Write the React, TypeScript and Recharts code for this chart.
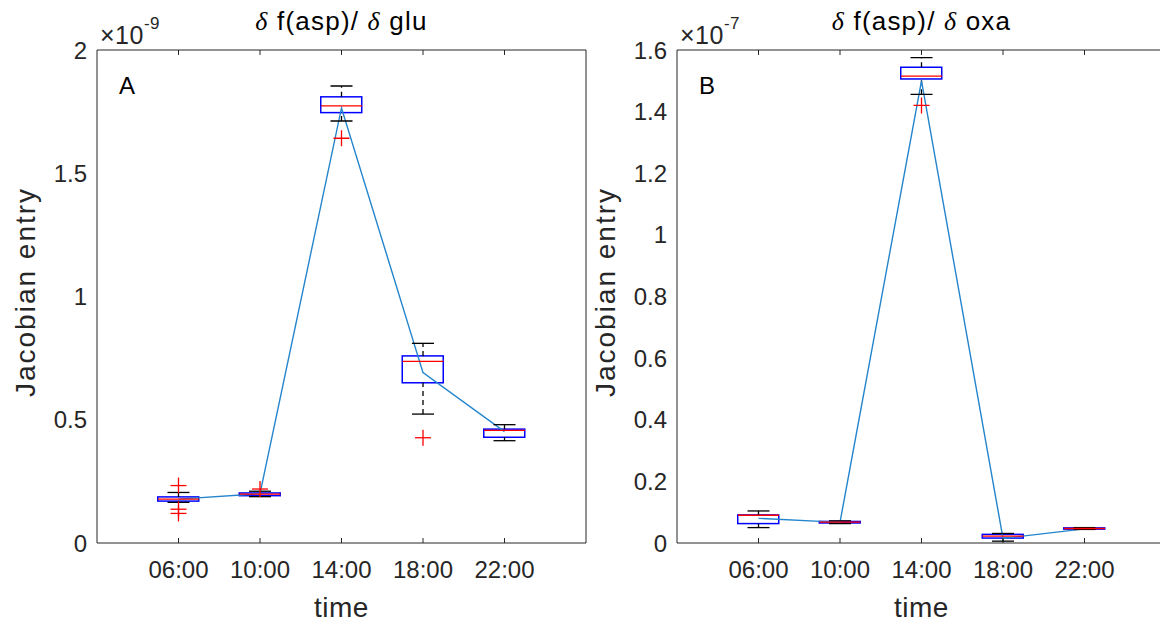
import { ComposedChart, XAxis, YAxis, Bar, Line, Scatter, ErrorBar } from 'recharts'

const times = ['06:00', '10:00', '14:00', '18:00', '22:00']
const positions = [1, 2, 3, 4, 5]

// panel A: d f(asp) / d glu, in units of 1e-9
const gluLo = [0.165, 0.188, 1.712, 0.523, 0.415]
const gluQ1 = [0.17, 0.192, 1.746, 0.65, 0.429]
const gluMed = [0.178, 0.198, 1.773, 0.737, 0.457]
const gluQ3 = [0.187, 0.203, 1.81, 0.759, 0.462]
const gluHi = [0.205, 0.21, 1.854, 0.81, 0.48]
const gluMean = [0.178, 0.2, 1.765, 0.691, 0.452]
const gluOutX = [1, 1, 1, 2, 3, 4]
const gluOutV = [0.233, 0.137, 0.12, 0.219, 1.642, 0.427]
const gluTicks = [0, 0.5, 1, 1.5, 2]

// panel B: d f(asp) / d oxa, in units of 1e-7
const oxaLo = [0.05, 0.063, 1.456, 0.006, 0.044]
const oxaQ1 = [0.063, 0.065, 1.506, 0.016, 0.045]
const oxaMed = [0.09, 0.068, 1.515, 0.022, 0.047]
const oxaQ3 = [0.091, 0.07, 1.544, 0.028, 0.049]
const oxaHi = [0.104, 0.072, 1.575, 0.031, 0.05]
const oxaMean = [0.08, 0.067, 1.5, 0.015, 0.046]
const oxaOutX = [3]
const oxaOutV = [1.42]
const oxaTicks = [0, 0.2, 0.4, 0.6, 0.8, 1, 1.2, 1.4, 1.6]

const FONT = '"Liberation Sans", Arial, Helvetica, sans-serif'
const SERIF = '"Liberation Serif", "DejaVu Serif", serif'
const AX = '#262626'
const BOX_W = 41

function buildRows(lo: number[], q1: number[], med: number[], q3: number[], hi: number[], mean: number[]) {
  return positions.map((x, i) => ({
    x,
    box: [q1[i], q3[i]],
    lo: lo[i],
    q1: q1[i],
    med: med[i],
    q3: q3[i],
    hi: hi[i],
    mean: mean[i],
    up: [0, hi[i] - q3[i]],
    down: [q1[i] - lo[i], 0],
  }))
}

const None = () => <g />

const Cap = (p: any) => (
  <line x1={p.cx - 11} x2={p.cx + 11} y1={p.cy} y2={p.cy} stroke="#000" strokeWidth={1.3} />
)

const Median = (p: any) => (
  <line x1={p.cx - BOX_W / 2} x2={p.cx + BOX_W / 2} y1={p.cy} y2={p.cy} stroke="#ff0000" strokeWidth={1.3} />
)

const Plus = (p: any) => (
  <g stroke="#ff0000" strokeWidth={1.3}>
    <line x1={p.cx - 8} x2={p.cx + 8} y1={p.cy} y2={p.cy} />
    <line x1={p.cx} x2={p.cx} y1={p.cy - 8} y2={p.cy + 8} />
  </g>
)

const BoxShape = (p: any) => (
  <rect x={p.x} y={p.y} width={p.width} height={Math.max(p.height, 1)} fill="none" stroke="#0000ff" strokeWidth={1.5} />
)

interface PanelProps {
  left: number
  rows: ReturnType<typeof buildRows>
  outliers: { x: number; v: number }[]
  yMax: number
  yTicks: number[]
}

function Panel({ left, rows, outliers, yMax, yTicks }: PanelProps) {
  const tickText = { fill: AX, fontSize: 24, fontFamily: FONT }
  return (
    <div style={{ position: 'absolute', left, top: 0, width: 600, height: 622 }}>
      <ComposedChart width={600} height={622} data={rows} margin={{ top: 50, right: 14, bottom: 78, left: 96 }}>
        <XAxis
          dataKey="x"
          type="number"
          domain={[0, 6]}
          ticks={positions}
          tickFormatter={(v: number) => times[v - 1]}
          height={1}
          tickSize={0}
          tickMargin={18}
          tickLine={false}
          axisLine={{ stroke: AX }}
          tick={tickText}
        />
        <XAxis xAxisId="bt" dataKey="x" type="number" domain={[0, 6]} ticks={positions} mirror height={1}
          tickSize={5} tickFormatter={() => ''} axisLine={false} tickLine={{ stroke: AX }} />
        <XAxis xAxisId="top" dataKey="x" type="number" orientation="top" domain={[0, 6]} ticks={positions} mirror height={1}
          tickSize={5} tickFormatter={() => ''} axisLine={{ stroke: AX }} tickLine={{ stroke: AX }} />
        <YAxis
          type="number"
          domain={[0, yMax]}
          ticks={yTicks}
          allowDataOverflow
          width={1}
          tickSize={0}
          tickMargin={10}
          tickLine={false}
          axisLine={{ stroke: AX }}
          tick={tickText}
          tickFormatter={(v: number) => String(v)}
        />
        <YAxis yAxisId="lt" type="number" domain={[0, yMax]} ticks={yTicks} mirror width={1}
          tickSize={5} tickFormatter={() => ''} axisLine={false} tickLine={{ stroke: AX }} />
        <YAxis yAxisId="rt" type="number" orientation="right" domain={[0, yMax]} ticks={yTicks} mirror width={1}
          tickSize={5} tickFormatter={() => ''} axisLine={{ stroke: AX }} tickLine={{ stroke: AX }} />

        <Scatter dataKey="q3" shape={None} isAnimationActive={false}>
          <ErrorBar dataKey="up" direction="y" width={0} stroke="#000" strokeWidth={1.3} strokeDasharray="5 4" isAnimationActive={false} />
        </Scatter>
        <Scatter dataKey="q1" shape={None} isAnimationActive={false}>
          <ErrorBar dataKey="down" direction="y" width={0} stroke="#000" strokeWidth={1.3} strokeDasharray="5 4" isAnimationActive={false} />
        </Scatter>
        <Bar dataKey="box" barSize={BOX_W} shape={BoxShape} isAnimationActive={false} />
        <Scatter dataKey="hi" shape={Cap} isAnimationActive={false} />
        <Scatter dataKey="lo" shape={Cap} isAnimationActive={false} />
        <Scatter dataKey="med" shape={Median} isAnimationActive={false} />
        <Line dataKey="mean" type="linear" stroke="#2485cc" strokeWidth={1.4} dot={false} isAnimationActive={false} />
        <Scatter data={outliers} dataKey="v" shape={Plus} isAnimationActive={false} />
      </ComposedChart>
    </div>
  )
}

function Labels({ x0, title, label, exp }: { x0: number; title: string; label: string; exp: string }) {
  const cx = x0 + 244.5
  return (
    <>
      <text x={cx} y={30} textAnchor="middle" fontSize={26} letterSpacing={1.2} fontFamily={FONT} fill="#000">
        <tspan fontFamily={SERIF} fontStyle="italic">δ</tspan>
        {' f(asp)/ '}
        <tspan fontFamily={SERIF} fontStyle="italic">δ</tspan>
        {' ' + title}
      </text>
      <text x={x0 + 3} y={44} fontSize={25} letterSpacing={0.5} fontFamily={FONT} fill={AX}>
        {'×10'}
        <tspan dy={-15} fontSize={17}>{exp}</tspan>
      </text>
      <text x={x0 + 22} y={94} fontSize={24} fontFamily={FONT} fill="#000">{label}</text>
      <text x={x0 - 62} y={292} transform={`rotate(-90 ${x0 - 62} 292)`} textAnchor="middle" fontSize={28}
        fontFamily={FONT} fill={AX} letterSpacing={2}>Jacobian entry</text>
      <text x={cx} y={617} textAnchor="middle" fontSize={28} letterSpacing={0.5} fontFamily={FONT} fill={AX}>time</text>
    </>
  )
}

export default function App() {
  const gluRows = buildRows(gluLo, gluQ1, gluMed, gluQ3, gluHi, gluMean)
  const oxaRows = buildRows(oxaLo, oxaQ1, oxaMed, oxaQ3, oxaHi, oxaMean)
  const gluOut = gluOutX.map((x, i) => ({ x, v: gluOutV[i] }))
  const oxaOut = oxaOutX.map((x, i) => ({ x, v: oxaOutV[i] }))
  return (
    <div style={{ position: 'absolute', left: 0, top: 0, width: 1160, height: 622, overflow: 'hidden', background: '#fff' }}>
      <Panel left={0} rows={gluRows} outliers={gluOut} yMax={2} yTicks={gluTicks} />
      <Panel left={580} rows={oxaRows} outliers={oxaOut} yMax={1.6} yTicks={oxaTicks} />
      <svg width={1160} height={622} style={{ position: 'absolute', left: 0, top: 0, pointerEvents: 'none' }}>
        <Labels x0={97} title="glu" label="A" exp="-9" />
        <Labels x0={677} title="oxa" label="B" exp="-7" />
      </svg>
    </div>
  )
}
